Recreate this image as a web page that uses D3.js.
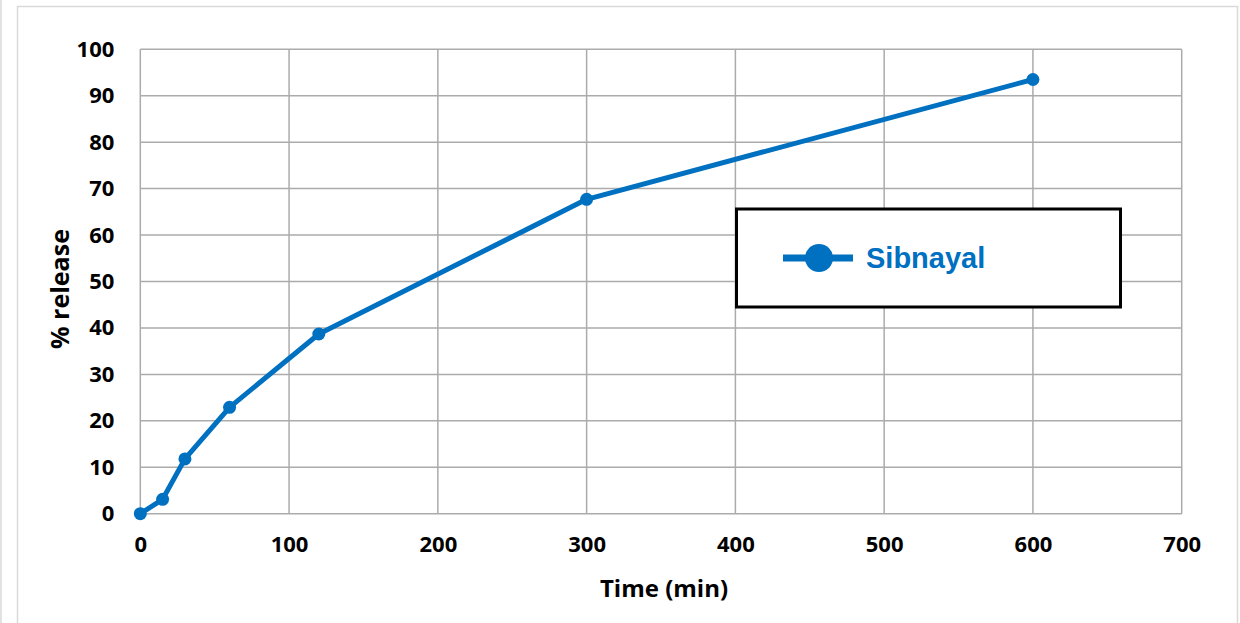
<!DOCTYPE html>
<html><head><meta charset="utf-8">
<script src="https://cdn.jsdelivr.net/npm/d3@7"></script>
<style>html,body{margin:0;padding:0;background:#fff;}svg{display:block;}</style>
</head><body>
<script>
const seriesName = "Sibnayal";
const timeMin = [0, 15, 30, 60, 120, 300, 600];
const release = [0, 3.1, 11.8, 22.9, 38.7, 67.7, 93.5];
const xTicks = [0, 100, 200, 300, 400, 500, 600, 700];
const yTicks = [0, 10, 20, 30, 40, 50, 60, 70, 80, 90, 100];
const xTitle = "Time (min)";
const yTitle = "% release";

const W = 1240, H = 623;
const svg = d3.select("body").append("svg").attr("width", W).attr("height", H);
const font = "'Open Sans', Lato, sans-serif";
const blue = "#0070C0";

// outer frame
svg.append("rect").attr("x", 17.5).attr("y", 6.5).attr("width", 1220).attr("height", 640)
  .attr("fill", "none").attr("stroke", "#d9d9d9").attr("stroke-width", 1.5);
svg.append("line").attr("x1", 1).attr("x2", 1).attr("y1", 0).attr("y2", H)
  .attr("stroke", "#d9d9d9").attr("stroke-width", 1.5);

const x = d3.scaleLinear().domain([0, 700]).range([140.3, 1181.7]);
const y = d3.scaleLinear().domain([0, 100]).range([513.7, 49.3]);

// grid
const g = svg.append("g");
g.selectAll(".vg").data(xTicks).join("line")
  .attr("x1", d => x(d)).attr("x2", d => x(d)).attr("y1", y(0)).attr("y2", y(100))
  .attr("stroke", "#ababab").attr("stroke-width", 1.5);
g.selectAll(".hg").data(yTicks).join("line")
  .attr("x1", x(0)).attr("x2", x(700)).attr("y1", d => y(d)).attr("y2", d => y(d))
  .attr("stroke", "#ababab").attr("stroke-width", 1.5);

// axes labels via d3 axes
const xAxis = svg.append("g").attr("transform", `translate(0,${y(0)})`)
  .call(d3.axisBottom(x).tickValues(xTicks).tickSize(0).tickPadding(23));
const yAxis = svg.append("g").attr("transform", `translate(${x(0)},0)`)
  .call(d3.axisLeft(y).tickValues(yTicks).tickSize(0).tickPadding(26));
[xAxis, yAxis].forEach(a => {
  a.select(".domain").remove();
  a.selectAll("text").attr("font-family", font).attr("font-weight", "bold")
    .attr("font-size", 22).attr("fill", "#000");
});

// titles
svg.append("text").attr("x", 664).attr("y", 597).attr("text-anchor", "middle")
  .attr("font-family", font).attr("font-weight", "bold").attr("font-size", 24).text(xTitle);
svg.append("text").attr("transform", "translate(69,289) rotate(-90)").attr("text-anchor", "middle")
  .attr("font-family", font).attr("font-weight", "bold").attr("font-size", 25).text(yTitle);

// series
const data = timeMin.map((t, i) => ({t, v: release[i]}));
svg.append("path").datum(data)
  .attr("d", d3.line().x(d => x(d.t)).y(d => y(d.v)))
  .attr("fill", "none").attr("stroke", blue).attr("stroke-width", 5).attr("stroke-linejoin", "round");
svg.selectAll(".pt").data(data).join("circle")
  .attr("cx", d => x(d.t)).attr("cy", d => y(d.v)).attr("r", 6.5).attr("fill", blue);

// legend
const lg = svg.append("g");
lg.append("rect").attr("x", 736.5).attr("y", 209).attr("width", 384).attr("height", 98)
  .attr("fill", "#fff").attr("stroke", "#000").attr("stroke-width", 3);
lg.append("line").attr("x1", 783).attr("x2", 853).attr("y1", 258).attr("y2", 258)
  .attr("stroke", blue).attr("stroke-width", 7);
lg.append("circle").attr("cx", 819).attr("cy", 258).attr("r", 14).attr("fill", blue);
lg.append("text").attr("x", 866).attr("y", 268).attr("font-family", "'Liberation Sans', Arial, sans-serif")
  .attr("font-weight", "bold").attr("font-size", 29).attr("fill", blue).text(seriesName);
</script>
</body></html>
